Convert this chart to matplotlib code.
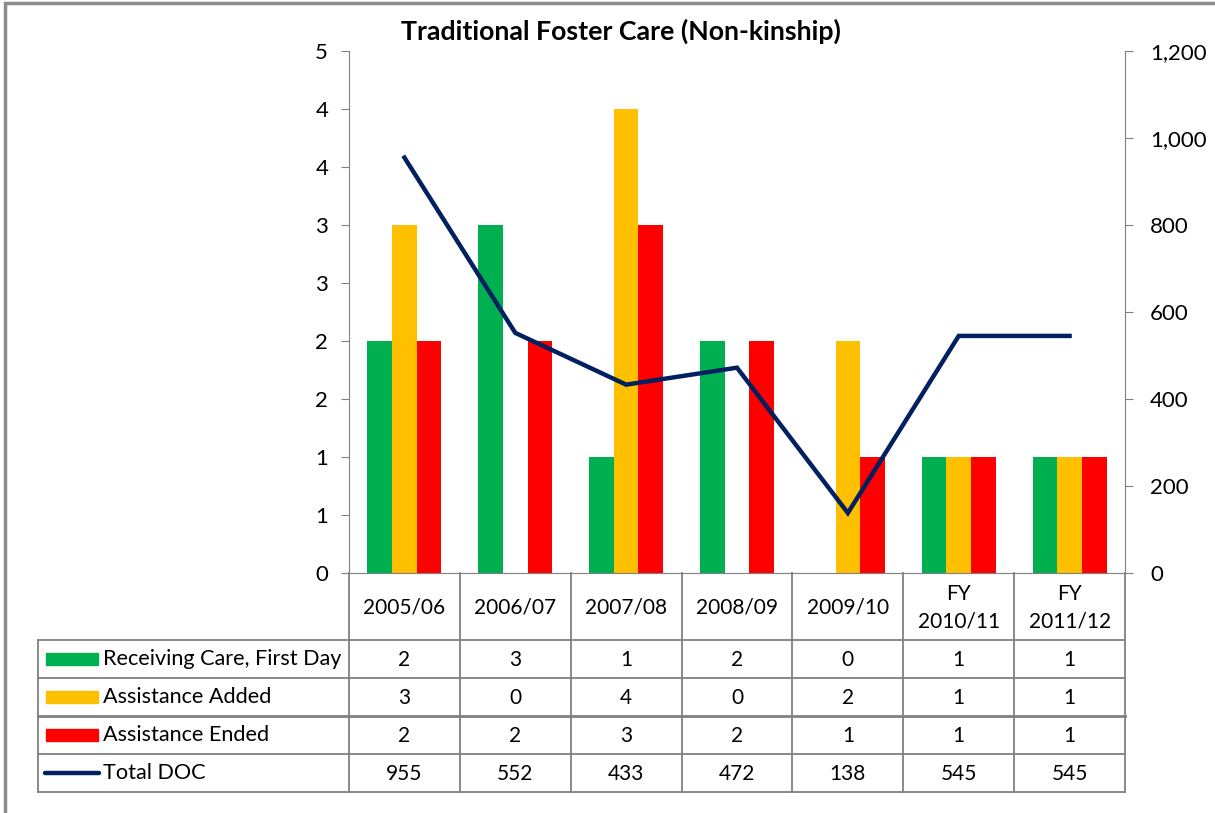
import matplotlib
matplotlib.use("Agg")
import matplotlib.pyplot as plt
from matplotlib.patches import Rectangle
from matplotlib.lines import Line2D

plt.rcParams['font.family'] = ['Lato', 'DejaVu Sans']

# ---- data ----
categories = ["2005/06", "2006/07", "2007/08", "2008/09", "2009/10", "FY\n2010/11", "FY\n2011/12"]
receiving_care = [2, 3, 1, 2, 0, 1, 1]
assistance_added = [3, 0, 4, 0, 2, 1, 1]
assistance_ended = [2, 2, 3, 2, 1, 1, 1]
total_doc = [955, 552, 433, 472, 138, 545, 545]
series_names = ["Receiving Care, First Day", "Assistance Added", "Assistance Ended", "Total DOC"]
left_ticks = [0, 0.5, 1, 1.5, 2, 2.5, 3, 3.5, 4, 4.5]
left_tick_labels = ["0", "1", "1", "2", "2", "3", "3", "4", "4", "5"]
right_ticks = [0, 200, 400, 600, 800, 1000, 1200]
right_tick_labels = ["0", "200", "400", "600", "800", "1,000", "1,200"]
title = "Traditional Foster Care (Non-kinship)"

colors = ["#00B050", "#FFC000", "#FF0000"]
line_color = "#002060"
grid_c = "#808080"

W, H = 1215, 813
fig = plt.figure(figsize=(W / 100, H / 100), dpi=100)

def fx(px):
    return px / W

def fy(py):
    return 1 - py / H

# outer frame
fig.add_artist(Rectangle((fx(5), fy(900)), fx(1300), fy(3) - fy(900), transform=fig.transFigure,
                         fill=False, edgecolor="#8c8c8c", linewidth=2.5))

L, R, T, B = 349, 1125, 51, 573
ax = fig.add_axes([fx(L), fy(B), fx(R) - fx(L), fy(T) - fy(B)])
n = len(categories)
x = list(range(n))
bw = 1 / 4.5
for k, vals in enumerate([receiving_care, assistance_added, assistance_ended]):
    ax.bar([i + (k - 1) * bw for i in x], vals, width=bw, color=colors[k], zorder=2)
ax.set_xlim(-0.5, n - 0.5)
ax.set_ylim(0, 4.5)
ax.set_yticks(left_ticks)
ax.set_yticklabels(left_tick_labels)
ax.set_xticks([])
for s in ["top", "right"]:
    ax.spines[s].set_visible(False)
ax.spines["left"].set_color(grid_c)
ax.spines["bottom"].set_color(grid_c)
ax.tick_params(axis="y", direction="out", length=6, color=grid_c, labelsize=16, pad=9)

ax2 = ax.twinx()
ax2.plot(x, total_doc, color=line_color, linewidth=3.2, zorder=3, solid_joinstyle="miter")
ax2.set_ylim(0, 1200)
ax2.set_yticks(right_ticks)
ax2.set_yticklabels(right_tick_labels)
for s in ["top", "left", "bottom"]:
    ax2.spines[s].set_visible(False)
ax2.spines["right"].set_color(grid_c)
ax2.tick_params(axis="y", direction="out", length=6, color=grid_c, labelsize=16, pad=12)

fig.text(fx(621), fy(31), title, ha="center", va="center", fontsize=19.3, fontweight="bold")

# ---- data table ----
fig.canvas.draw()
edges = [ax.transData.transform((i - 0.5, 0))[0] for i in range(n + 1)]
centers = [ax.transData.transform((i, 0))[0] for i in range(n)]
tab_left = 38
row_y = [573, 640, 678, 716, 754, 792]

def hline(x0, x1, y, lw=1.3):
    fig.add_artist(Line2D([fx(x0), fx(x1)], [fy(y), fy(y)], transform=fig.transFigure, color=grid_c, linewidth=lw))

def vline(x0, y0, y1, lw=1.3):
    fig.add_artist(Line2D([fx(x0), fx(x0)], [fy(y0), fy(y1)], transform=fig.transFigure, color=grid_c, linewidth=lw))

for e in edges:
    vline(e, row_y[0], row_y[-1])
vline(tab_left, row_y[1], row_y[-1])
for j, y in enumerate(row_y[1:]):
    hline(tab_left, edges[-1], y, lw=2.0 if j == 2 else 1.3)

tfs = 15
hdr_mid = (row_y[0] + row_y[1]) / 2
for c, lab in zip(centers, categories):
    fig.text(fx(c), fy(hdr_mid + 1), lab, ha="center", va="center", fontsize=tfs, linespacing=1.5)

rows = [receiving_care, assistance_added, assistance_ended, total_doc]
for r, (name, vals) in enumerate(zip(series_names, rows)):
    ym = (row_y[r + 1] + row_y[r + 2]) / 2
    if r < 3:
        fig.add_artist(Rectangle((fx(46), fy(ym + 6)), fx(98) - fx(46), fy(ym - 6) - fy(ym + 6),
                                 transform=fig.transFigure, color=colors[r]))
    else:
        fig.add_artist(Line2D([fx(45), fx(99)], [fy(ym), fy(ym)], transform=fig.transFigure,
                              color=line_color, linewidth=3.2, solid_capstyle="round"))
    fig.text(fx(103), fy(ym), name, ha="left", va="center", fontsize=15.6)
    for c, v in zip(centers, vals):
        fig.text(fx(c), fy(ym + 1), str(v), ha="center", va="center", fontsize=tfs)

fig.savefig("out.png", dpi=100)
